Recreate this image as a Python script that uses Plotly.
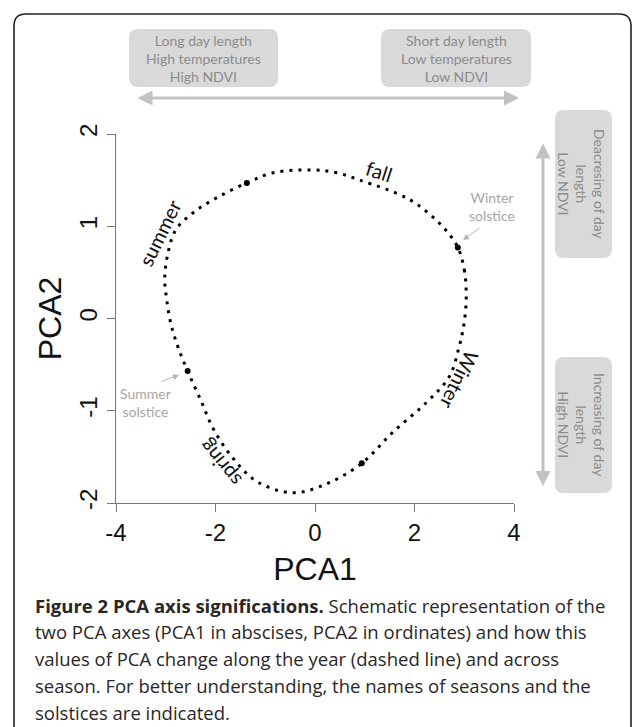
import plotly.graph_objects as go

# ---- data ----
# yearly trajectory, starting at the winter solstice and going round the year
pca1 = [2.87, 3.00, 3.04, 3.00, 2.90, 2.70, 2.24, 1.57, 0.94, 0.24, -0.44, -1.16,
        -1.64, -2.04, -2.30, -2.56, -2.76, -2.90, -2.98, -3.02, -2.97, -2.80,
        -2.44, -1.97, -1.37, -0.84, -0.04, 0.44, 0.90, 1.90, 2.56, 2.87]
pca2 = [0.77, 0.53, 0.24, -0.04, -0.30, -0.63, -0.91, -1.23, -1.57, -1.79, -1.89, -1.77,
        -1.52, -1.20, -0.88, -0.57, -0.30, -0.05, 0.20, 0.42, 0.67, 0.96,
        1.15, 1.31, 1.47, 1.58, 1.61, 1.58, 1.50, 1.29, 1.00, 0.77]

# highlighted dates (solstices and season transitions)
mark_pca1 = [2.87, 0.94, -2.56, -1.37]
mark_pca2 = [0.77, -1.57, -0.57, 1.47]

season_names = ["summer", "fall", "Winter", "spring"]
season_x = [-3.13, 1.29, 2.90, -1.92]
season_y = [0.93, 1.60, -0.67, -1.56]
season_angle = [-64, 18, 116, -129]

x_ticks = [-4, -2, 0, 2, 4]
y_ticks = [-2, -1, 0, 1, 2]

box_top_left = "Long day length<br>High temperatures<br>High NDVI"
box_top_right = "Short day length<br>Low temperatures<br>Low NDVI"
box_right_top = "Deacresing of day<br>length<br>Low NDVI"
box_right_bottom = "Increasing of day<br>length<br>High NDVI"

caption_lines = [
    "<b>Figure 2 PCA axis significations.</b> Schematic representation of the",
    "two PCA axes (PCA1 in abscises, PCA2 in ordinates) and how this",
    "values of PCA change along the year (dashed line) and across",
    "season. For better understanding, the names of seasons and the",
    "solstices are indicated.",
]

# ---- layout geometry (pixels) ----
W, H = 633, 727
L, R, T, B = 116, 119, 134, 224
PW, PH = W - L - R, H - T - B


def px(xp):
    return (xp - L) / PW


def py(yp):
    return (H - B - yp) / PH


def rounded_path(x0, y0, x1, y1, r):
    pts = [
        ("M", x0 + r, y0), ("L", x1 - r, y0), ("Q", x1, y0, x1, y0 + r),
        ("L", x1, y1 - r), ("Q", x1, y1, x1 - r, y1), ("L", x0 + r, y1),
        ("Q", x0, y1, x0, y1 - r), ("L", x0, y0 + r), ("Q", x0, y0, x0 + r, y0),
    ]
    s = ""
    for p in pts:
        cmd = p[0]
        coords = p[1:]
        parts = []
        for i in range(0, len(coords), 2):
            parts.append(f"{px(coords[i]):.5f},{py(coords[i+1]):.5f}")
        s += cmd + " " + " ".join(parts) + " "
    return s + "Z"


fig = go.Figure()

fig.add_trace(go.Scatter(
    x=pca1, y=pca2, mode="lines",
    line=dict(color="black", width=3, dash="3px,6px", shape="spline", smoothing=1.0),
    hoverinfo="skip", showlegend=False, cliponaxis=False,
))
fig.add_trace(go.Scatter(
    x=mark_pca1, y=mark_pca2, mode="markers",
    marker=dict(color="black", size=6), showlegend=False, cliponaxis=False,
))

shapes = []
# outer frame
shapes.append(dict(type="path", xref="paper", yref="paper",
                   path=rounded_path(14, 14, 631, 760, 12),
                   line=dict(color="#222222", width=1.6), fillcolor="rgba(0,0,0,0)",
                   layer="below"))
box_fill = "#d9d9d9"
for (x0, y0, x1, y1) in [(129, 29, 278, 87), (381, 29, 531, 87),
                         (555, 110, 612, 258), (555, 357, 612, 493)]:
    shapes.append(dict(type="path", xref="paper", yref="paper",
                       path=rounded_path(x0, y0, x1, y1, 9),
                       line=dict(width=0), fillcolor=box_fill, layer="below"))

box_font = dict(family="Lato", size=14, color="#8c8c8c")
annotations = []


def note(xp, yp, text, font, angle=0, align="center", xanchor="center"):
    annotations.append(dict(xref="paper", yref="paper", x=px(xp), y=py(yp),
                            text=text, showarrow=False, font=font, align=align,
                            textangle=angle, xanchor=xanchor, yanchor="middle"))


note(203.5, 58, box_top_left, box_font)
note(456, 58, box_top_right, box_font)
note(582, 184, box_right_top, box_font, angle=90)
note(582, 425, box_right_bottom, box_font, angle=90)

# big gray double arrows
arrow_col = "#c2c2c2"
annotations.append(dict(xref="paper", yref="paper", x=px(519), y=py(98), ax=-383, ay=0,
                        text="", showarrow=True, arrowhead=2, startarrowhead=2,
                        arrowside="end+start", arrowsize=1, arrowwidth=3,
                        arrowcolor=arrow_col))
annotations.append(dict(xref="paper", yref="paper", x=px(543), y=py(486), ax=0, ay=-344,
                        text="", showarrow=True, arrowhead=2, startarrowhead=2,
                        arrowside="end+start", arrowsize=1, arrowwidth=3,
                        arrowcolor=arrow_col))

# solstice notes
sol_font = dict(family="Lato", size=14, color="#a6a6a6")
note(492, 206, "Winter<br>solstice", sol_font)
note(145, 402, "Summer<br>solstice", sol_font)
annotations.append(dict(xref="paper", yref="paper", x=px(463), y=py(240), ax=18, ay=-13,
                        text="", showarrow=True, arrowhead=2, arrowsize=1.2, arrowwidth=1,
                        arrowcolor="#b5b5b5"))
annotations.append(dict(xref="paper", yref="paper", x=px(179), y=py(375), ax=-19, ay=7,
                        text="", showarrow=True, arrowhead=2, arrowsize=1.2, arrowwidth=1,
                        arrowcolor="#b5b5b5"))

# season names
for name, sx, sy, ang in zip(season_names, season_x, season_y, season_angle):
    annotations.append(dict(x=sx, y=sy, xref="x", yref="y", text=name, showarrow=False,
                            textangle=ang, xanchor="center", yanchor="middle",
                            font=dict(family="Lato", size=20, color="#111111")))

# caption
cap_font = dict(family="Open Sans", size=18.5, color="#2a2627")
for i, line in enumerate(caption_lines):
    note(33, 605 + i * 26.8, line, cap_font, align="left", xanchor="left")

axis_common = dict(showgrid=False, zeroline=False, showline=True, linecolor="#777777",
                   linewidth=1.3, ticks="outside", ticklen=8, tickwidth=1.3,
                   tickcolor="#777777", tickfont=dict(family="Liberation Sans", size=24,
                                                      color="#111111"))

fig.update_layout(
    width=W, height=H, margin=dict(l=L, r=R, t=T, b=B, autoexpand=False),
    paper_bgcolor="white", plot_bgcolor="white",
    shapes=shapes, annotations=annotations,
    xaxis=dict(range=[-4, 4], tickvals=x_ticks, ticktext=[str(v) for v in x_ticks],
               title=dict(text="PCA1", font=dict(family="Liberation Sans", size=32,
                                                 color="#111111"), standoff=12),
               **axis_common),
    yaxis=dict(range=[-2, 2], tickvals=y_ticks, ticktext=[str(v) for v in y_ticks],
               tickangle=-90,
               title=dict(text="PCA2", font=dict(family="Liberation Sans", size=32,
                                                 color="#111111"), standoff=4),
               **axis_common),
)

fig.write_html("out.html", config={"displayModeBar": False},
               post_script="document.body.style.margin='0px';")
